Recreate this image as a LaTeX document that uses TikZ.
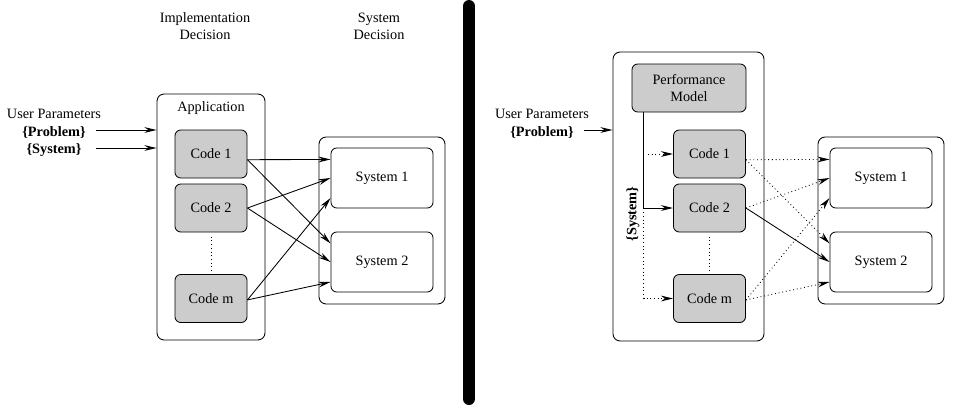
\documentclass[tikz,border=0pt]{standalone}
\usepackage{fontspec}
\setmainfont{Liberation Serif}
\usetikzlibrary{arrows.meta}
\begin{document}
\begin{tikzpicture}[x=0.7pt,y=-0.7pt,line width=0.6pt,>={Stealth[length=8.5pt,width=4pt]},
  frame/.style={draw,rounded corners=5pt,inner sep=0pt},
  codebox/.style={draw,rounded corners=4pt,fill=black!20,minimum width=50.4pt,minimum height=33.6pt},
  sysbox/.style={draw,rounded corners=4pt,minimum width=71.4pt,minimum height=42pt}]
\useasboundingbox (0,0) rectangle (954,406);
% left half
\node[align=center] (impl) at (205,26) {Implementation\\Decision};
\node[align=center] (sysdec) at (379,26) {System\\Decision};
\node (userA) at (54,114) {User Parameters};
\node[font=\bfseries] (probA) at (54,132) {\{Problem\}};
\node[font=\bfseries] (sysA) at (54,150) {\{System\}};
\node[frame,minimum width=75.6pt,minimum height=172.2pt] (app) at (211,217) {};
\node (applbl) at (211,108) {Application};
\node[codebox] (a1) at (211,154) {Code 1};
\node[codebox] (a2) at (211,208) {Code 2};
\node[codebox] (am) at (211,298.5) {Code m};
\node[frame,minimum width=88.2pt,minimum height=116.9pt] (sysboxA) at (382,220.5) {};
\node[sysbox] (sA1) at (382,178) {System 1};
\node[sysbox] (sA2) at (382,262) {System 2};
\coordinate (inA1) at (96,130);
\coordinate (inA2) at (96,148);
\draw[->] (inA1) -- (inA1 -| app.west);
\draw[->] (inA2) -- (inA2 -| app.west);
\draw[dotted,shorten <=3pt,shorten >=2pt] (a2.south) -- (am.north);
\foreach \c/\d/\s in {a1/-4/13, a2/0/0, am/-1/-14}
{
    \draw[->] ([yshift=\d pt]\c.east) -- ([yshift=\s pt]sA1.west);
    \draw[->] ([yshift=\d pt]\c.east) -- ([yshift=\s pt]sA2.west);
}
% separator
\draw[line width=8.4pt,line cap=round] (469,6) -- (469,399);
% right half
\node (userB) at (542,114) {User Parameters};
\node[font=\bfseries] (probB) at (542,132) {\{Problem\}};
\node[frame,minimum width=105.7pt,minimum height=202.3pt] (model) at (688.5,196.5) {};
\node[codebox,minimum width=79.8pt,align=center] (perf) at (689,88) {Performance\\Model};
\node[codebox] (b1) at (709.5,154) {Code 1};
\node[codebox] (b2) at (709.5,208) {Code 2};
\node[codebox] (bm) at (709.5,298.5) {Code m};
\node[frame,minimum width=88.2pt,minimum height=116.9pt] (sysboxB) at (881,220.5) {};
\node[sysbox] (sB1) at (881,178) {System 1};
\node[sysbox] (sB2) at (881,262) {System 2};
\node[rotate=90,font=\bfseries] (sysB) at (633,214) {\{System\}};
\coordinate (inB) at (584,130);
\draw[->] (inB) -- (inB -| model.west);
\coordinate (tap) at ([xshift=8.4pt]perf.south west);
\draw[->] (tap) |- (b2.west);
\draw[dotted,->] ([xshift=3pt]tap |- b1.west) -- (b1.west);
\draw[dotted,->] ([yshift=-3pt]tap |- b2.west) |- (bm.west);
\draw[dotted,shorten <=3pt,shorten >=2pt] (b2.south) -- (bm.north);
\foreach \c/\d/\s/\ta/\tb in {b1/-4/13/dotted/dotted, b2/0/0/dotted/solid, bm/-1/-14/dotted/dotted}
{
    \draw[->,\ta] ([yshift=\d pt]\c.east) -- ([yshift=\s pt]sB1.west);
    \draw[->,\tb] ([yshift=\d pt]\c.east) -- ([yshift=\s pt]sB2.west);
}
\end{tikzpicture}
\end{document}
